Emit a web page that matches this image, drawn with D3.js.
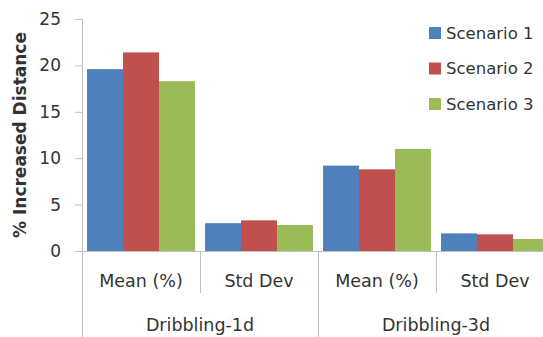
<!DOCTYPE html>
<html>
<head>
<meta charset="utf-8">
<script src="https://cdn.jsdelivr.net/npm/d3@7"></script>
<style>
  html, body { margin: 0; padding: 0; background: #fff; }
  svg text { font-family: "DejaVu Sans", sans-serif; fill: #333; }
</style>
</head>
<body>
<svg id="chart" width="543" height="337"></svg>
<script>
// Groups and measures along the x axis
const groups = ["Dribbling-1d", "Dribbling-3d"];
const measures = ["Mean (%)", "Std Dev"];
const seriesNames = ["Scenario 1", "Scenario 2", "Scenario 3"];
const seriesColors = ["#4f81bd", "#c0504d", "#9bbb59"];

// Values per scenario, in order: 1d mean, 1d std, 3d mean, 3d std
const scenario1 = [19.6, 3.0, 9.2, 1.9];
const scenario2 = [21.4, 3.3, 8.8, 1.8];
const scenario3 = [18.3, 2.8, 11.0, 1.3];
const yTicks = [0, 5, 10, 15, 20, 25];

const seriesValues = [scenario1, scenario2, scenario3];
const categories = [];
groups.forEach(g => measures.forEach(m => categories.push({ group: g, measure: m, key: g + "|" + m })));

const svg = d3.select("#chart");
const axisColor = "#bfbfbf";

const x0 = d3.scaleBand().domain(categories.map(c => c.key)).range([82, 554]).paddingInner(0).paddingOuter(0);
const x1 = d3.scaleBand().domain(seriesNames).range([0, x0.bandwidth()]).paddingInner(0).paddingOuter(0.14);
const y = d3.scaleLinear().domain([0, 25]).range([251, 19]);

// Bars
const cat = svg.append("g").selectAll("g").data(categories).join("g")
  .attr("transform", d => `translate(${x0(d.key)},0)`);
cat.selectAll("rect").data((d, i) => seriesNames.map((s, k) => ({ s, k, v: seriesValues[k][i] })))
  .join("rect")
  .attr("x", d => x1(d.s))
  .attr("width", x1.bandwidth())
  .attr("y", d => y(d.v))
  .attr("height", d => y(0) - y(d.v))
  .attr("fill", d => seriesColors[d.k]);

// Y axis
const yAxis = svg.append("g").attr("transform", "translate(82,0)")
  .call(d3.axisLeft(y).tickValues(yTicks).tickSize(7).tickPadding(14));
yAxis.select(".domain").attr("stroke", axisColor).attr("d", `M-0.5,${y(25)}H0.5V337`);
yAxis.selectAll(".tick line").attr("stroke", axisColor);
yAxis.selectAll(".tick text").attr("font-size", 17).attr("font-family", "DejaVu Sans, sans-serif").attr("fill", "#333");

// X baseline
svg.append("line").attr("x1", 75).attr("x2", 554).attr("y1", y(0) + 0.5).attr("y2", y(0) + 0.5).attr("stroke", axisColor);

// Separators between measures and groups
categories.forEach((c, i) => {
  if (i === 0) return;
  const xx = Math.round(x0(c.key)) + 0.5;
  const groupBoundary = c.measure === measures[0];
  svg.append("line").attr("x1", xx).attr("x2", xx)
    .attr("y1", y(0)).attr("y2", groupBoundary ? 337 : 293)
    .attr("stroke", axisColor);
});

// Measure labels
svg.append("g").selectAll("text").data(categories).join("text")
  .attr("x", d => x0(d.key) + x0.bandwidth() / 2)
  .attr("y", 287)
  .attr("text-anchor", "middle")
  .attr("font-size", 17.5)
  .text(d => d.measure);

// Group labels
svg.append("g").selectAll("text").data(groups).join("text")
  .attr("x", g => {
    const keys = categories.filter(c => c.group === g).map(c => c.key);
    return (x0(keys[0]) + x0(keys[keys.length - 1]) + x0.bandwidth()) / 2;
  })
  .attr("y", 331)
  .attr("text-anchor", "middle")
  .attr("font-size", 17.5)
  .text(g => g);

// Y axis title
svg.append("text")
  .attr("transform", `translate(26,${y(12.5)}) rotate(-90)`)
  .attr("text-anchor", "middle")
  .attr("font-family", "Open Sans, sans-serif")
  .attr("font-size", 17)
  .attr("font-weight", "bold")
  .text("% Increased Distance");

// Legend
const legend = svg.append("g").selectAll("g").data(seriesNames).join("g")
  .attr("transform", (d, i) => `translate(429,${33 + i * 35.5})`);
legend.append("rect").attr("x", 0).attr("y", -6).attr("width", 12).attr("height", 12)
  .attr("fill", (d, i) => seriesColors[i]);
legend.append("text").attr("x", 17).attr("y", 0).attr("dy", "0.36em")
  .attr("font-size", 16.5).text(d => d);
</script>
</body>
</html>
